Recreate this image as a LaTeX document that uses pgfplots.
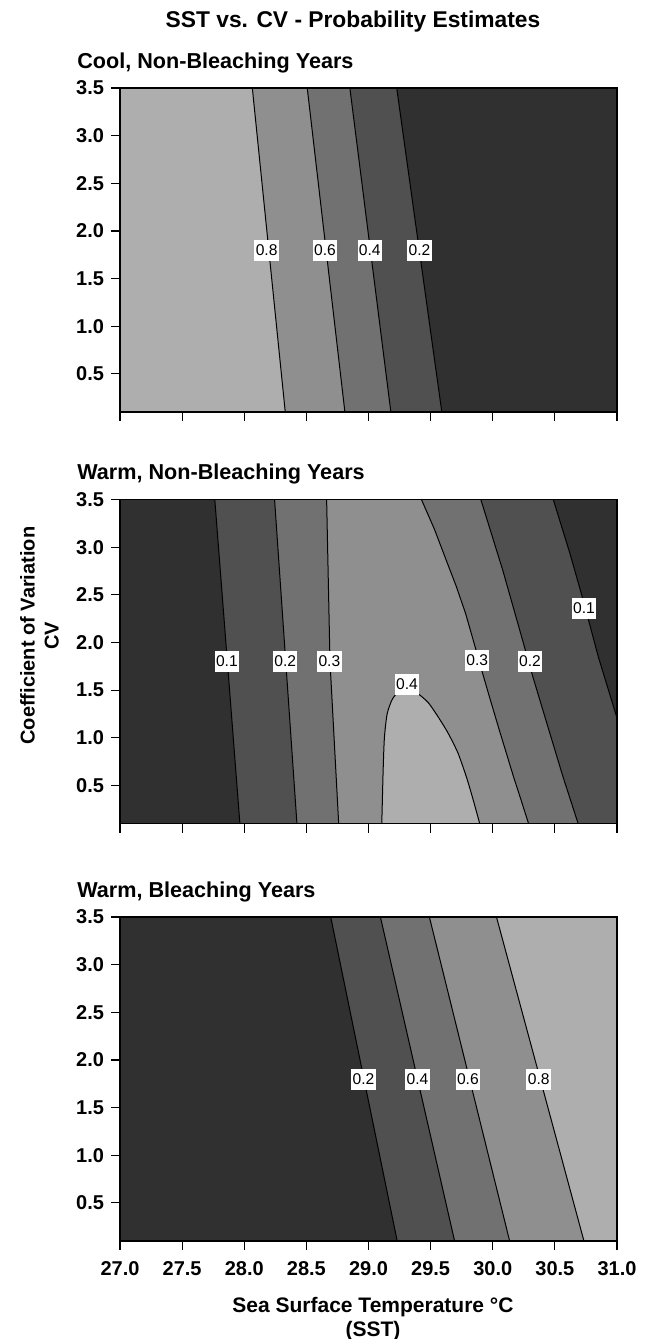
\documentclass[border=0pt]{standalone}
\usepackage{fontspec}
\setmainfont{Liberation Sans}
\usepackage{pgfplots}
\pgfplotsset{compat=1.18}
\definecolor{gA}{HTML}{303030}
\definecolor{gB}{HTML}{505050}
\definecolor{gC}{HTML}{717171}
\definecolor{gD}{HTML}{8F8F8F}
\definecolor{gE}{HTML}{AEAEAE}
\tikzset{ptitle/.style={anchor=base west, xshift=-21.5pt, yshift=4pt, inner sep=0pt,
      font=\bfseries\fontsize{10.8}{12}\selectfont}}
\pgfplotsset{
  panel/.style={
    width=248.5pt, height=162pt, scale only axis,
    xmin=27, xmax=31, ymin=0.1, ymax=3.5,
    xtick={27,27.5,28,28.5,29,29.5,30,30.5,31},
    ytick={0.5,1,1.5,2,2.5,3,3.5},
    tick align=outside, tick pos=left, major tick length=4.5pt,
    tick style={line width=0.6pt, black},
    axis on top, axis line style={line width=0.7pt},
    tick label style={font=\bfseries\fontsize{10}{12}\selectfont},
    xticklabel style={yshift=-2pt,/pgf/number format/.cd,fixed,fixed zerofill,precision=1,assume math mode=true},
    yticklabel style={/pgf/number format/.cd,fixed,fixed zerofill,precision=1,assume math mode=true},
  },
  cline/.style={black, line width=0.5pt, mark=none},
  clab/.style={draw=none, mark=none, nodes near coords, point meta=explicit symbolic,
    every node near coord/.append style={anchor=center, fill=white, inner xsep=0.7pt, inner ysep=0pt,
      minimum height=10.5pt, text=black, font=\fontsize{7.8}{9}\selectfont}},
}
\begin{document}
\begin{tikzpicture}
\path[use as bounding box] (0,0) rectangle (322.5pt,-669.5pt);
\node[anchor=base, inner sep=0pt, font=\bfseries\fontsize{11.4}{13}\selectfont] at (176.5pt,-13.5pt) {SST vs. CV - Probability Estimates};

% ---------- Top panel ----------
\begin{axis}[panel, at={(60pt,-206pt)}, anchor=south west, xticklabels={},
  title={Cool, Non-Bleaching Years}, title style={at={(rel axis cs:0,1)}, ptitle}]
\addplot[fill=gA, draw=none] coordinates {(27,0.1) (31,0.1) (31,3.5) (27,3.5)} -- cycle;
\addplot[fill=gB, draw=none] coordinates {(27,0.1) (29.59,0.1) (29.227,3.5) (27,3.5)} -- cycle;
\addplot[fill=gC, draw=none] coordinates {(27,0.1) (29.18,0.1) (28.85,3.5) (27,3.5)} -- cycle;
\addplot[fill=gD, draw=none] coordinates {(27,0.1) (28.81,0.1) (28.507,3.5) (27,3.5)} -- cycle;
\addplot[fill=gE, draw=none] coordinates {(27,0.1) (28.33,0.1) (28.065,3.5) (27,3.5)} -- cycle;
\addplot[cline] coordinates {(28.065,3.5) (28.33,0.1)};
\addplot[cline] coordinates {(28.507,3.5) (28.81,0.1)};
\addplot[cline] coordinates {(28.85,3.5) (29.18,0.1)};
\addplot[cline] coordinates {(29.227,3.5) (29.59,0.1)};
\addplot[clab] coordinates {(28.18,1.8)[0.8] (28.65,1.8)[0.6] (29.01,1.8)[0.4] (29.41,1.8)[0.2]};
\end{axis}

% ---------- Middle panel ----------
\begin{axis}[panel, at={(60pt,-411.75pt)}, anchor=south west, xticklabels={},
  title={Warm, Non-Bleaching Years}, title style={at={(rel axis cs:0,1)}, ptitle},
  ylabel={Coefficient of Variation\\CV},
  ylabel style={at={(axis description cs:-0.162,0.58)}, anchor=center, align=center, inner sep=0pt,
    font=\bfseries\fontsize{10}{12}\selectfont},
  ]
\addplot[fill=gA, draw=none] coordinates {(27,0.1) (31,0.1) (31,3.5) (27,3.5)} -- cycle;
\addplot[fill=gB, draw=none] coordinates {(27.763,3.5) (27.864,1.8) (27.965,0.1) (31,0.1) (31,1.207) (30.849,1.852) (30.735,2.411) (30.621,2.935) (30.487,3.5)} -- cycle;
\addplot[fill=gC, draw=none] coordinates {(28.244,3.5) (28.334,1.8) (28.424,0.1) (30.687,0.1) (30.564,0.596) (30.451,1.084) (30.322,1.643) (30.209,2.167) (30.080,2.76) (29.904,3.5)} -- cycle;
\addplot[fill=gD, draw=none] coordinates {(28.663,3.5) (28.69,1.8) (28.76,0.1) (30.288,0.1) (30.227,0.35) (30.166,0.596) (30.109,0.84) (30.052,1.084) (29.98,1.40) (29.910,1.713) (29.846,2.01) (29.781,2.306) (29.706,2.59) (29.625,2.865) (29.53,3.19) (29.426,3.5)} -- cycle;
\addplot[fill=gE, draw=none, smooth, tension=0.4] coordinates {(29.107,0.1) (29.118,0.666) (29.128,1.00) (29.15,1.25) (29.19,1.40) (29.24,1.48) (29.31,1.51) (29.39,1.47) (29.48,1.37) (29.56,1.22) (29.64,1.05) (29.72,0.84) (29.79,0.58) (29.84,0.36) (29.895,0.1)} -- cycle;
% lines
\addplot[cline] coordinates {(27.763,3.5) (27.864,1.8) (27.965,0.1)};
\addplot[cline] coordinates {(28.244,3.5) (28.334,1.8) (28.424,0.1)};
\addplot[cline] coordinates {(28.663,3.5) (28.69,1.8) (28.76,0.1)};
\addplot[cline, smooth, tension=0.4] coordinates {(29.107,0.1) (29.118,0.666) (29.128,1.00) (29.15,1.25) (29.19,1.40) (29.24,1.48) (29.31,1.51) (29.39,1.47) (29.48,1.37) (29.56,1.22) (29.64,1.05) (29.72,0.84) (29.79,0.58) (29.84,0.36) (29.895,0.1)};
\addplot[cline] coordinates {(29.426,3.5) (29.53,3.19) (29.625,2.865) (29.706,2.59) (29.781,2.306) (29.846,2.01) (29.910,1.713) (29.98,1.40) (30.052,1.084) (30.109,0.84) (30.166,0.596) (30.227,0.35) (30.288,0.1)};
\addplot[cline] coordinates {(29.904,3.5) (30.080,2.76) (30.209,2.167) (30.322,1.643) (30.451,1.084) (30.564,0.596) (30.687,0.1)};
\addplot[cline] coordinates {(30.487,3.5) (30.621,2.935) (30.735,2.411) (30.849,1.852) (31,1.207)};
\addplot[clab] coordinates {(27.86,1.8)[0.1] (28.33,1.8)[0.2] (28.685,1.8)[0.3] (29.31,1.56)[0.4] (29.875,1.81)[0.3] (30.30,1.8)[0.2] (30.735,2.36)[0.1]};
\end{axis}

% ---------- Bottom panel ----------
\begin{axis}[panel, at={(60pt,-620.5pt)}, anchor=south west,
  title={Warm, Bleaching Years}, title style={at={(rel axis cs:0,1)}, ptitle},
  xlabel={Sea Surface Temperature °C\\(SST)},
  xlabel style={at={(axis description cs:0.509,0)}, anchor=north, yshift=-28pt, inner sep=0pt,
    align=center, font=\bfseries\fontsize{10.5}{12}\selectfont},
  ]
\addplot[fill=gE, draw=none] coordinates {(27,0.1) (31,0.1) (31,3.5) (27,3.5)} -- cycle;
\addplot[fill=gD, draw=none] coordinates {(27,0.1) (30.734,0.1) (30.03,3.5) (27,3.5)} -- cycle;
\addplot[fill=gC, draw=none] coordinates {(27,0.1) (30.136,0.1) (29.49,3.5) (27,3.5)} -- cycle;
\addplot[fill=gB, draw=none] coordinates {(27,0.1) (29.693,0.1) (29.096,3.5) (27,3.5)} -- cycle;
\addplot[fill=gA, draw=none] coordinates {(27,0.1) (29.231,0.1) (28.696,3.5) (27,3.5)} -- cycle;
\addplot[cline] coordinates {(28.696,3.5) (29.231,0.1)};
\addplot[cline] coordinates {(29.096,3.5) (29.693,0.1)};
\addplot[cline] coordinates {(29.49,3.5) (30.136,0.1)};
\addplot[cline] coordinates {(30.03,3.5) (30.734,0.1)};
\addplot[clab] coordinates {(28.96,1.8)[0.2] (29.394,1.8)[0.4] (29.80,1.8)[0.6] (30.37,1.8)[0.8]};
\end{axis}
\end{tikzpicture}
\end{document}
